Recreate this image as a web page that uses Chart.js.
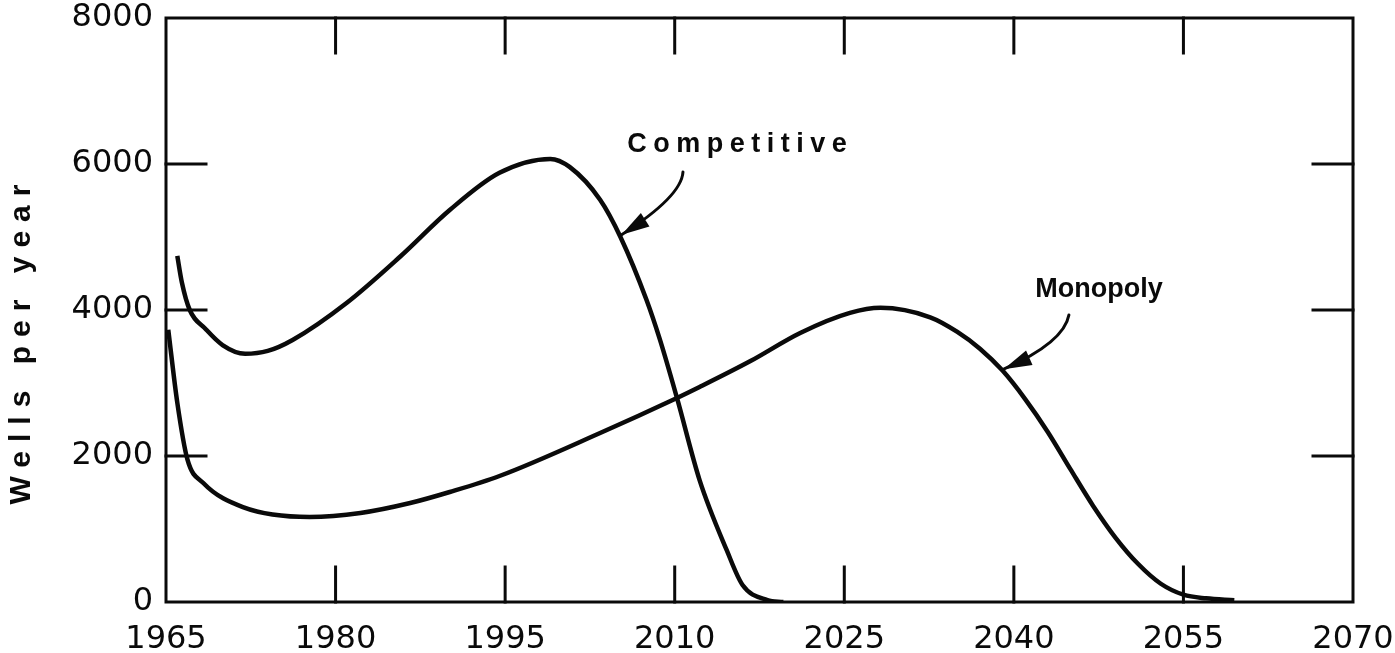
<!DOCTYPE html>
<html>
<head>
<meta charset="utf-8">
<script src="https://cdn.jsdelivr.net/npm/chart.js@4.4.1/dist/chart.umd.min.js"></script>
<style>
  body { margin: 0; background: #fff; }
  canvas { display: block; }
</style>
</head>
<body>
<canvas id="chart" width="1395" height="653"></canvas>
<script>
// values (year, wells per year)
var years_competitive = [1966, 1966.4, 1967.1, 1968.5, 1970, 1972, 1974, 1976.2, 1981, 1985.7, 1990.1, 1994.5, 1999, 2000.7, 2003.4, 2005.2, 2007.5, 2008.7, 2010.2, 2012.2, 2014.6, 2016, 2018.2, 2019.6];
var wells_competitive = [4740, 4380, 4000, 3740, 3520, 3400, 3440, 3590, 4100, 4730, 5370, 5880, 6070, 5960, 5510, 5000, 4140, 3590, 2795, 1670, 710, 233, 27, 0];

var years_monopoly = [1965.2, 1966, 1966.9, 1968.3, 1971.8, 1977.7, 1982.2, 1986.6, 1990.1, 1994.5, 2003.4, 2010.2, 2012.2, 2016.7, 2021.1, 2025.5, 2028.2, 2032.6, 2035, 2037, 2039, 2041, 2043, 2045, 2047, 2049, 2051, 2053, 2055, 2057, 2059.5];
var wells_monopoly = [3730, 2730, 1950, 1630, 1300, 1165, 1220, 1356, 1507, 1726, 2315, 2795, 2945, 3300, 3685, 3960, 4030, 3900, 3700, 3470, 3170, 2780, 2330, 1820, 1320, 880, 520, 250, 100, 50, 25];

var x_ticks = [1965, 1980, 1995, 2010, 2025, 2040, 2055, 2070];
var y_ticks = [0, 2000, 4000, 6000, 8000];

var y_title = 'Wells per year';

// label text, label anchor, arrow tail / bend / tip (all in data units)
var notes = [
  { text: 'Competitive', at: [2005.8, 6270], spacing: 6.5, tail: [2010.73, 5890], bend: [2010.6, 5555], tip: [2005.3, 5030] },
  { text: 'Monopoly', at: [2041.9, 4274], spacing: 0, tail: [2044.87, 3932], bend: [2044.43, 3555], tip: [2039.1, 3190] }
];

function points(xs, ys){
  return xs.map(function(x, i){ return { x: x, y: ys[i] }; });
}

var ink = '#0a0a0a';

var framePlugin = {
  id: 'frame',
  afterDraw: function(chart){
    var ctx = chart.ctx;
    var a = chart.chartArea;
    var xs = chart.scales.x, ys = chart.scales.y;
    ctx.save();
    ctx.strokeStyle = ink;
    ctx.lineWidth = 3;
    ctx.lineCap = 'square';
    ctx.strokeRect(a.left, a.top, a.right - a.left, a.bottom - a.top);

    // inward tick marks on all four sides
    ctx.beginPath();
    x_ticks.slice(1, -1).forEach(function(v){
      var px = xs.getPixelForValue(v);
      ctx.moveTo(px, a.bottom); ctx.lineTo(px, a.bottom - 35);
      ctx.moveTo(px, a.top); ctx.lineTo(px, a.top + 35);
    });
    y_ticks.slice(1, -1).forEach(function(v){
      var py = ys.getPixelForValue(v);
      ctx.moveTo(a.left, py); ctx.lineTo(a.left + 40, py);
      ctx.moveTo(a.right, py); ctx.lineTo(a.right - 40, py);
    });
    ctx.stroke();

    // y axis title, spaced out like the original
    ctx.fillStyle = ink;
    ctx.font = 'bold 30px "Liberation Sans", Arial, sans-serif';
    ctx.letterSpacing = '9px';
    ctx.translate(22, (a.top + a.bottom) / 2 + 30);
    ctx.rotate(-Math.PI / 2);
    ctx.textAlign = 'center';
    ctx.textBaseline = 'middle';
    ctx.fillText(y_title, 0, 0);
    ctx.setTransform(1, 0, 0, 1, 0, 0);

    // labels with curved arrows
    notes.forEach(function(n){
      ctx.font = 'bold 27px "Liberation Sans", Arial, sans-serif';
      ctx.letterSpacing = n.spacing + 'px';
      ctx.textAlign = 'left';
      ctx.textBaseline = 'middle';
      ctx.fillText(n.text, xs.getPixelForValue(n.at[0]), ys.getPixelForValue(n.at[1]));

      var t = [xs.getPixelForValue(n.tail[0]), ys.getPixelForValue(n.tail[1])];
      var b = [xs.getPixelForValue(n.bend[0]), ys.getPixelForValue(n.bend[1])];
      var p = [xs.getPixelForValue(n.tip[0]), ys.getPixelForValue(n.tip[1])];
      ctx.lineWidth = 3;
      ctx.lineCap = 'round';
      ctx.beginPath();
      ctx.moveTo(t[0], t[1]);
      ctx.quadraticCurveTo(b[0], b[1], p[0], p[1]);
      ctx.stroke();

      var ang = Math.atan2(p[1] - b[1], p[0] - b[0]);
      var len = 28, w = 8;
      var bx = p[0] - len * Math.cos(ang), by = p[1] - len * Math.sin(ang);
      ctx.beginPath();
      ctx.moveTo(p[0], p[1]);
      ctx.lineTo(bx + w * Math.sin(ang), by - w * Math.cos(ang));
      ctx.lineTo(bx - w * Math.sin(ang), by + w * Math.cos(ang));
      ctx.closePath();
      ctx.fill();
    });
    ctx.restore();
  }
};

var tickFont = { family: '"DejaVu Sans", sans-serif', size: 32 };

new Chart(document.getElementById('chart'), {
  type: 'line',
  data: {
    datasets: [
      { label: 'Competitive', data: points(years_competitive, wells_competitive) },
      { label: 'Monopoly', data: points(years_monopoly, wells_monopoly) }
    ]
  },
  options: {
    responsive: false,
    animation: false,
    layout: { padding: { top: 18, right: 42, left: 0, bottom: 0 } },
    elements: {
      line: { borderColor: ink, borderWidth: 4.5, cubicInterpolationMode: 'monotone', fill: false },
      point: { radius: 0 }
    },
    plugins: { legend: { display: false }, tooltip: { enabled: false } },
    scales: {
      x: {
        type: 'linear',
        min: 1965,
        max: 2070,
        grid: { display: false, drawTicks: false },
        border: { display: false },
        afterBuildTicks: function(scale){ scale.ticks = x_ticks.map(function(v){ return { value: v }; }); },
        afterFit: function(scale){ scale.height = 51; scale.paddingLeft = 0; scale.paddingRight = 0; },
        ticks: {
          autoSkip: false, maxRotation: 0, padding: 18, color: ink, font: tickFont,
          callback: function(v){ return String(v); }
        }
      },
      y: {
        min: 0,
        max: 8000,
        grid: { display: false, drawTicks: false },
        border: { display: false },
        afterBuildTicks: function(scale){ scale.ticks = y_ticks.map(function(v){ return { value: v }; }); },
        afterFit: function(scale){ scale.width = 166; scale.paddingTop = 0; scale.paddingBottom = 0; },
        ticks: {
          padding: 13, color: ink, font: tickFont,
          callback: function(v){ return String(v); }
        }
      }
    }
  },
  plugins: [framePlugin]
});
</script>
</body>
</html>
